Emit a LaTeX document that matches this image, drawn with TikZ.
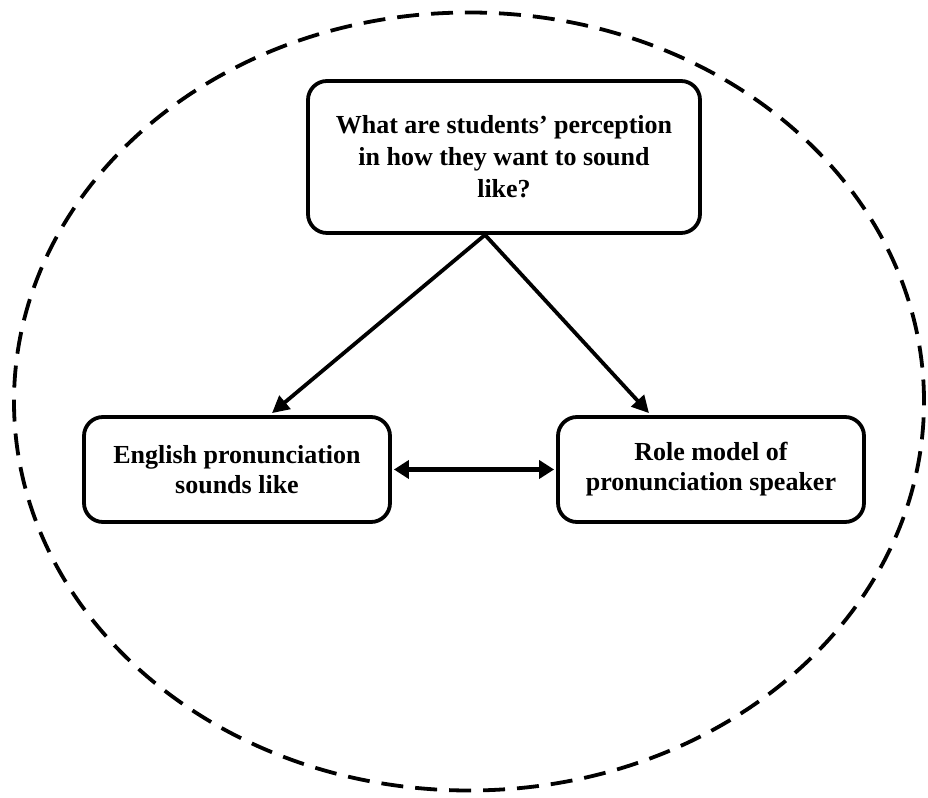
\documentclass[tikz,border=0pt]{standalone}
\usepackage{fontspec}
\setmainfont{Liberation Serif}
\usetikzlibrary{positioning,shapes,arrows.meta}

\begin{document}
\begin{tikzpicture}
    [x=1pt,y=1pt,every node/.style={draw, line width=3.8pt, rectangle, rounded corners=19pt, align=center, font=\fontsize{26}{30}\selectfont\bfseries, inner sep=0pt}]
  \useasboundingbox (0,0) rectangle (928,797);
  \draw[line width=3.8pt, dash pattern=on 22pt off 12pt] (469,395.5) ellipse [x radius=455, y radius=389];

  \node[minimum width=392pt, minimum height=152pt, font=\fontsize{26}{32}\selectfont\bfseries] (q) at (504,640) {What are students' perception\\in how they want to sound\\like?};
  \node[minimum width=306pt, minimum height=105pt] (eng) at (237,327.5) {English pronunciation\\sounds like};
  \node[minimum width=306pt, minimum height=105pt] (role) at (711,327.5) {Role model of\\pronunciation speaker};

  \coordinate (apex) at ([xshift=-19pt]q.south);
  \foreach \to/\shift in {eng/35, role/-62}
    \draw[line width=3.8pt, -{Triangle[length=17pt, width=17pt]}] (apex) -- ([xshift=\shift pt, yshift=2pt]\to.north);
  \draw[line width=4.6pt, {Triangle[length=15pt, width=18pt]}-{Triangle[length=15pt, width=18pt]}] ([xshift=2pt]eng.east) -- ([xshift=-2pt]role.west);
\end{tikzpicture}
\end{document}
